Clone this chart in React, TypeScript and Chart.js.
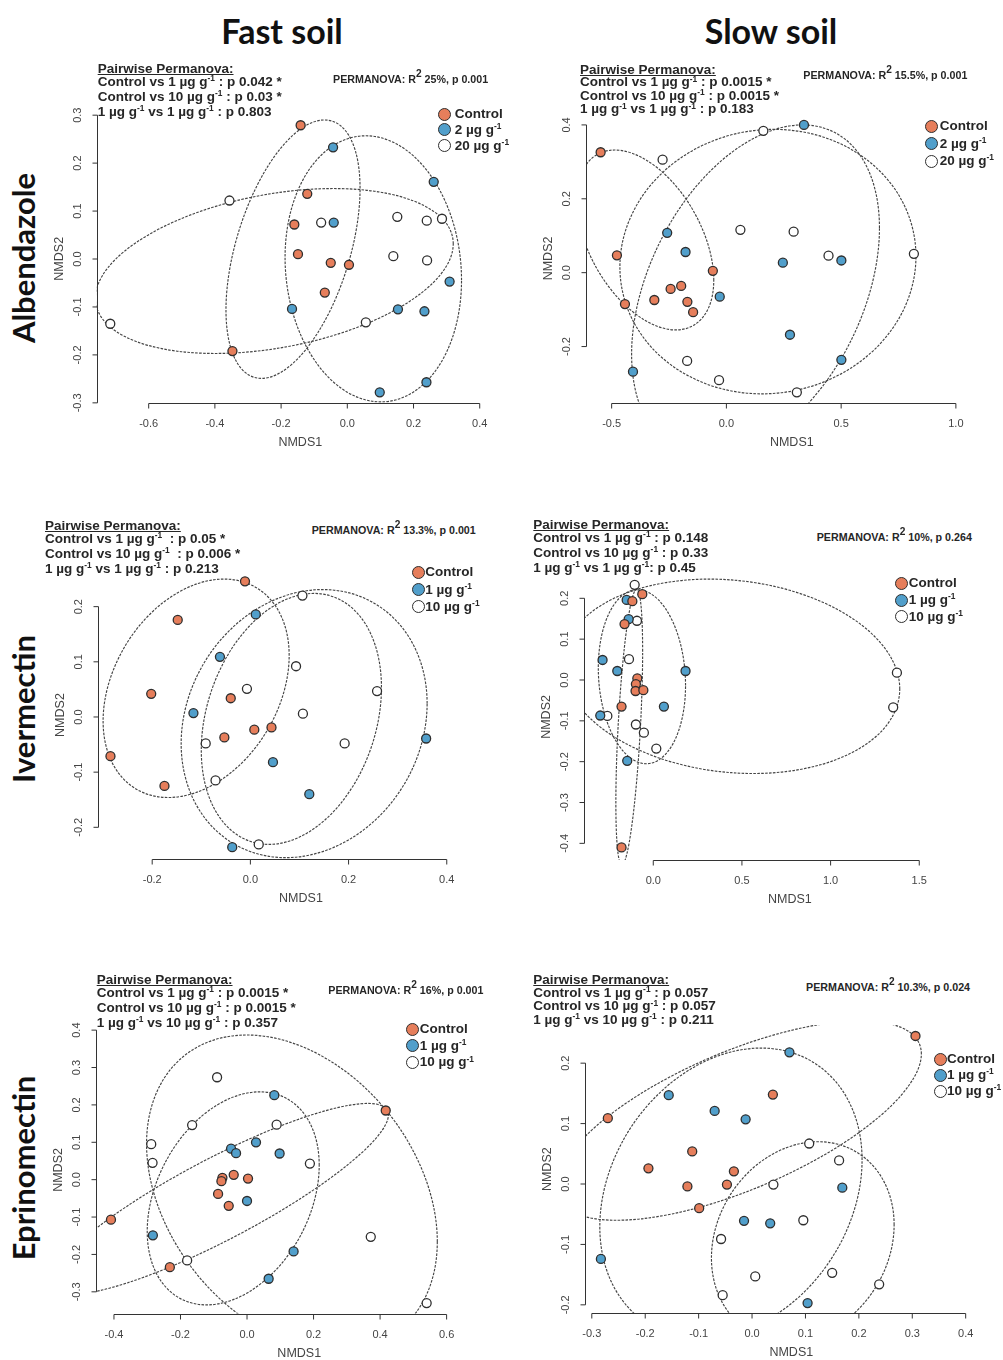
import React, { useEffect, useRef } from "react";
import { Chart, registerables } from "chart.js";
Chart.register(...registerables);

type Pt = [number, number];
// ellipse: [centerX, centerY, halfWidthX, halfHeightY, correlation]
type Ell = [number, number, number, number, number];

// ---------- Albendazole / Fast soil ----------
const albFastControl: Pt[] = [[-0.141, 0.279], [-0.121, 0.136], [-0.16, 0.072], [-0.149, 0.01], [-0.05, -0.008], [0.005, -0.012], [-0.068, -0.07], [-0.347, -0.192]];
const albFastLow: Pt[] = [[-0.043, 0.233], [0.261, 0.161], [-0.041, 0.076], [0.309, -0.047], [-0.167, -0.104], [0.153, -0.105], [0.233, -0.109], [0.239, -0.257], [0.098, -0.278]];
const albFastHigh: Pt[] = [[-0.356, 0.122], [-0.079, 0.076], [0.151, 0.088], [0.24, 0.08], [0.286, 0.084], [0.139, 0.006], [0.241, -0.003], [0.056, -0.132], [-0.716, -0.135]];
const albFastEllipses: Ell[] = [[-0.164, 0.0205, 0.2025, 0.2695, 0.47], [0.0785, -0.0205, 0.2665, 0.2775, -0.085], [-0.2205, -0.025, 0.5405, 0.172, 0.33]];
const albFastXTicks = [-0.6, -0.4, -0.2, 0, 0.2, 0.4];
const albFastYTicks = [-0.3, -0.2, -0.1, 0, 0.1, 0.2, 0.3];
const albFastPairwise = ["Control vs 1 µg g{-1} : p 0.042 *", "Control vs 10 µg g{-1} : p 0.03 *", "1 µg g{-1} vs 1 µg g{-1} : p 0.803"];
const albFastPermanova = "PERMANOVA: R{2} 25%, p 0.001";
const albFastLegend = ["Control", "2 µg g{-1}", "20 µg g{-1}"];

// ---------- Albendazole / Slow soil ----------
const albSlowControl: Pt[] = [[-0.548, 0.326], [-0.477, 0.047], [-0.442, -0.085], [-0.314, -0.074], [-0.243, -0.044], [-0.197, -0.036], [-0.17, -0.079], [-0.145, -0.107], [-0.059, 0.005]];
const albSlowLow: Pt[] = [[0.338, 0.4], [-0.258, 0.108], [-0.178, 0.056], [-0.029, -0.065], [0.246, 0.027], [0.501, 0.033], [0.277, -0.168], [0.501, -0.236], [-0.407, -0.268]];
const albSlowHigh: Pt[] = [[0.161, 0.384], [-0.278, 0.306], [0.061, 0.116], [0.293, 0.111], [0.445, 0.046], [0.817, 0.051], [-0.171, -0.239], [-0.032, -0.291], [0.307, -0.324]];
const albSlowEllipses: Ell[] = [[-0.3535, 0.0885, 0.2985, 0.2435, -0.446], [0.127, -0.05, 0.54, 0.45, 0.38], [0.181, 0.03, 0.645, 0.358, 0.04]];
const albSlowXTicks = [-0.5, 0, 0.5, 1.0];
const albSlowYTicks = [-0.2, 0, 0.2, 0.4];
const albSlowPairwise = ["Control vs 1 µg g{-1} : p 0.0015 *", "Control vs 10 µg g{-1} : p 0.0015 *", "1 µg g{-1} vs 1 µg g{-1} : p 0.183"];
const albSlowPermanova = "PERMANOVA: R{2} 15.5%, p 0.001";
const albSlowLegend = ["Control", "2 µg g{-1}", "20 µg g{-1}"];

// ---------- Ivermectin / Fast soil ----------
const ivmFastControl: Pt[] = [[-0.011, 0.246], [-0.148, 0.176], [-0.202, 0.042], [-0.04, 0.034], [0.008, -0.023], [0.043, -0.019], [-0.053, -0.037], [-0.285, -0.071], [-0.175, -0.125]];
const ivmFastLow: Pt[] = [[0.011, 0.186], [-0.062, 0.109], [-0.116, 0.007], [0.046, -0.082], [0.12, -0.14], [0.358, -0.039], [-0.037, -0.236]];
const ivmFastHigh: Pt[] = [[0.106, 0.22], [0.093, 0.092], [-0.007, 0.051], [0.107, 0.006], [0.258, 0.047], [0.192, -0.048], [-0.091, -0.048], [-0.071, -0.115], [0.017, -0.231]];
const ivmFastEllipses: Ell[] = [[-0.1105, 0.052, 0.1895, 0.198, 0.3], [0.1095, -0.012, 0.2505, 0.243, 0.15], [0.0835, -0.0035, 0.1835, 0.2275, 0.25]];
const ivmFastXTicks = [-0.2, 0, 0.2, 0.4];
const ivmFastYTicks = [-0.2, -0.1, 0, 0.1, 0.2];
const ivmFastPairwise = ["Control vs 1 µg g{-1}  : p 0.05 *", "Control vs 10 µg g{-1}  : p 0.006 *", "1 µg g{-1} vs 1 µg g{-1} : p 0.213"];
const ivmFastPermanova = "PERMANOVA: R{2} 13.3%, p 0.001";
const ivmFastLegend = ["Control", "1 µg g{-1}", "10 µg g{-1}"];

// ---------- Ivermectin / Slow soil ----------
const ivmSlowControl: Pt[] = [[-0.062, 0.21], [-0.118, 0.193], [-0.162, 0.137], [-0.09, 0.004], [-0.098, -0.01], [-0.1, -0.027], [-0.056, -0.025], [-0.179, -0.065], [-0.179, -0.41]];
const ivmSlowLow: Pt[] = [[-0.15, 0.196], [-0.139, 0.149], [-0.286, 0.049], [-0.203, 0.022], [0.182, 0.022], [0.06, -0.065], [-0.299, -0.087], [-0.147, -0.198]];
const ivmSlowHigh: Pt[] = [[-0.105, 0.233], [-0.092, 0.145], [-0.137, 0.051], [1.374, 0.018], [1.353, -0.067], [-0.259, -0.088], [-0.098, -0.109], [-0.053, -0.129], [0.017, -0.168]];
const ivmSlowEllipses: Ell[] = [[-0.1355, -0.1155, 0.0755, 0.3375, 0.55], [-0.064, 0.008, 0.246, 0.213, -0.1], [0.44, 0.009, 0.95, 0.238, -0.13]];
const ivmSlowXTicks = [0, 0.5, 1.0, 1.5];
const ivmSlowYTicks = [-0.4, -0.3, -0.2, -0.1, 0, 0.1, 0.2];
const ivmSlowPairwise = ["Control vs 1 µg g{-1} : p 0.148", "Control vs 10 µg g{-1} : p 0.33", "1 µg g{-1} vs 1 µg g{-1}: p 0.45"];
const ivmSlowPermanova = "PERMANOVA: R{2} 10%, p 0.264";
const ivmSlowLegend = ["Control", "1 µg g{-1}", "10 µg g{-1}"];

// ---------- Eprinomectin / Fast soil ----------
const eprFastControl: Pt[] = [[0.417, 0.185], [-0.074, 0.005], [-0.077, -0.004], [-0.04, 0.013], [0.003, 0.003], [-0.087, -0.038], [-0.055, -0.07], [-0.409, -0.107], [-0.232, -0.234]];
const eprFastLow: Pt[] = [[0.082, 0.226], [-0.048, 0.083], [-0.033, 0.071], [0.027, 0.1], [0.098, 0.07], [0.0, -0.057], [-0.283, -0.149], [0.14, -0.192], [0.065, -0.265]];
const eprFastHigh: Pt[] = [[-0.09, 0.274], [-0.165, 0.146], [0.089, 0.147], [-0.288, 0.095], [-0.284, 0.045], [0.189, 0.043], [0.372, -0.153], [-0.18, -0.216], [0.54, -0.33]];
const eprFastEllipses: Ell[] = [[-0.085, -0.052, 0.51, 0.256, 0.879], [-0.0415, -0.05, 0.2585, 0.285, 0.31], [0.135, -0.035, 0.437, 0.422, -0.31]];
const eprFastXTicks = [-0.4, -0.2, 0, 0.2, 0.4, 0.6];
const eprFastYTicks = [-0.3, -0.2, -0.1, 0, 0.1, 0.2, 0.3, 0.4];
const eprFastPairwise = ["Control vs 1 µg g{-1} : p 0.0015 *", "Control vs 10 µg g{-1} : p 0.0015 *", "1 µg g{-1} vs 10 µg g{-1} : p 0.357"];
const eprFastPermanova = "PERMANOVA: R{2} 16%, p 0.001";
const eprFastLegend = ["Control", "1 µg g{-1}", "10 µg g{-1}"];

// ---------- Eprinomectin / Slow soil ----------
const eprSlowControl: Pt[] = [[0.306, 0.245], [-0.27, 0.109], [0.039, 0.148], [-0.112, 0.054], [-0.194, 0.026], [-0.034, 0.021], [-0.121, -0.004], [-0.047, -0.001], [-0.099, -0.04]];
const eprSlowLow: Pt[] = [[0.07, 0.218], [-0.156, 0.147], [-0.07, 0.121], [-0.012, 0.107], [0.169, -0.006], [-0.015, -0.061], [0.034, -0.065], [-0.283, -0.124], [0.104, -0.197]];
const eprSlowHigh: Pt[] = [[0.107, 0.067], [0.163, 0.039], [0.04, -0.001], [0.096, -0.06], [-0.058, -0.091], [0.006, -0.153], [0.15, -0.147], [0.238, -0.166], [-0.055, -0.184]];
const eprSlowEllipses: Ell[] = [[-0.025, 0.105, 0.342, 0.165, 0.668], [-0.0395, -0.0155, 0.2455, 0.2405, 0.23], [0.095, -0.095, 0.171, 0.165, 0.167]];
const eprSlowXTicks = [-0.3, -0.2, -0.1, 0, 0.1, 0.2, 0.3, 0.4];
const eprSlowYTicks = [-0.2, -0.1, 0, 0.1, 0.2];
const eprSlowPairwise = ["Control vs 1 µg g{-1} : p 0.057", "Control vs 10 µg g{-1} : p 0.057", "1 µg g{-1} vs 10 µg g{-1} : p 0.211"];
const eprSlowPermanova = "PERMANOVA: R{2} 10.3%, p 0.024";
const eprSlowLegend = ["Control", "1 µg g{-1}", "10 µg g{-1}"];

const columnTitles = ["Fast soil", "Slow soil"];
const rowTitles = ["Albendazole", "Ivermectin", "Eprinomectin"];
const axisTitles = ["NMDS1", "NMDS2"];

const groupColors = ["#E67E5B", "#519FCB", "#FFFFFF"];
const pointEdge = "#2E2E2E";
const FONT = '"Liberation Sans", Arial, Helvetica, sans-serif';

interface Panel {
  key: string;
  canvas: { left: number; top: number; width: number; height: number };
  area: { left: number; right: number; top: number; bottom: number };
  xlim: [number, number];
  ylim: [number, number];
  groups: Pt[][];
  ellipses: Ell[];
  xTicks: number[];
  yTicks: number[];
  pairwise: string[];
  permanova: string;
  legend: string[];
  header: { left: number; top: number; step: number };
  perm: { left: number; top: number };
  leg: { x: number; y: number; step: number; tx: number };
}

const panels: Panel[] = [
  {
    key: "albFast",
    canvas: { left: 0, top: 100, width: 510, height: 360 },
    area: { left: 96.7, right: 503.9, top: 114.7, bottom: 402.85 },
    xlim: [-0.757, 0.473], ylim: [-0.3, 0.301],
    groups: [albFastControl, albFastLow, albFastHigh], ellipses: albFastEllipses,
    xTicks: albFastXTicks, yTicks: albFastYTicks,
    pairwise: albFastPairwise, permanova: albFastPermanova, legend: albFastLegend,
    header: { left: 97.7, top: 68, step: 13 }, perm: { left: 333, top: 79 }, leg: { x: 444.3, y: 114, step: 15.9, tx: 10.5 },
  },
  {
    key: "albSlow",
    canvas: { left: 510, top: 100, width: 493, height: 360 },
    area: { left: 586.4, right: 998.1, top: 114.2, bottom: 402.7 },
    xlim: [-0.61, 1.18], ylim: [-0.352, 0.429],
    groups: [albSlowControl, albSlowLow, albSlowHigh], ellipses: albSlowEllipses,
    xTicks: albSlowXTicks, yTicks: albSlowYTicks,
    pairwise: albSlowPairwise, permanova: albSlowPermanova, legend: albSlowLegend,
    header: { left: 580, top: 70, step: 12.5 }, perm: { left: 803.3, top: 75 }, leg: { x: 931.7, y: 126, step: 17.5, tx: 8 },
  },
  {
    key: "ivmFast",
    canvas: { left: 0, top: 555, width: 510, height: 360 },
    area: { left: 97.7, right: 505.8, top: 570.8, bottom: 859.3 },
    xlim: [-0.311, 0.517], ylim: [-0.258, 0.265],
    groups: [ivmFastControl, ivmFastLow, ivmFastHigh], ellipses: ivmFastEllipses,
    xTicks: ivmFastXTicks, yTicks: ivmFastYTicks,
    pairwise: ivmFastPairwise, permanova: ivmFastPermanova, legend: ivmFastLegend,
    header: { left: 45, top: 525, step: 13 }, perm: { left: 311.7, top: 530 }, leg: { x: 418.3, y: 572.3, step: 17.2, tx: 7 },
  },
  {
    key: "ivmSlow",
    canvas: { left: 510, top: 555, width: 493, height: 360 },
    area: { left: 584.3, right: 995.5, top: 573.8, bottom: 860.1 },
    xlim: [-0.389, 1.93], ylim: [-0.441, 0.26],
    groups: [ivmSlowControl, ivmSlowLow, ivmSlowHigh], ellipses: ivmSlowEllipses,
    xTicks: ivmSlowXTicks, yTicks: ivmSlowYTicks,
    pairwise: ivmSlowPairwise, permanova: ivmSlowPermanova, legend: ivmSlowLegend,
    header: { left: 533.3, top: 524.5, step: 13 }, perm: { left: 816.7, top: 536.7 }, leg: { x: 901.7, y: 583.3, step: 16.7, tx: 7 },
  },
  {
    key: "eprFast",
    canvas: { left: 0, top: 1005, width: 510, height: 355 },
    area: { left: 96, right: 502.5, top: 1026.4, bottom: 1313.5 },
    xlim: [-0.454, 0.768], ylim: [-0.358, 0.41],
    groups: [eprFastControl, eprFastLow, eprFastHigh], ellipses: eprFastEllipses,
    xTicks: eprFastXTicks, yTicks: eprFastYTicks,
    pairwise: eprFastPairwise, permanova: eprFastPermanova, legend: eprFastLegend,
    header: { left: 96.7, top: 979.5, step: 13 }, perm: { left: 328.3, top: 990 }, leg: { x: 412.7, y: 1029, step: 16.7, tx: 7 },
  },
  {
    key: "eprSlow",
    canvas: { left: 510, top: 1005, width: 493, height: 355 },
    area: { left: 585.4, right: 1002.8, top: 1025.1, bottom: 1313.3 },
    xlim: [-0.312, 0.459], ylim: [-0.214, 0.263],
    groups: [eprSlowControl, eprSlowLow, eprSlowHigh], ellipses: eprSlowEllipses,
    xTicks: eprSlowXTicks, yTicks: eprSlowYTicks,
    pairwise: eprSlowPairwise, permanova: eprSlowPermanova, legend: eprSlowLegend,
    header: { left: 533.3, top: 980.5, step: 12.5 }, perm: { left: 806, top: 986.7 }, leg: { x: 940, y: 1059, step: 16, tx: 7 },
  },
];

const fmt = (v: number) => (Math.abs(v) < 1e-9 ? "0.0" : v.toFixed(1));

function makeRPlugin(p: Panel) {
  return {
    id: "rstyle-" + p.key,
    beforeDatasetsDraw(chart: any) {
      const { ctx, chartArea: a } = chart;
      const xs = chart.scales.x;
      const ys = chart.scales.y;
      ctx.save();
      ctx.beginPath();
      ctx.rect(a.left, a.top, a.right - a.left, a.bottom - a.top);
      ctx.clip();
      ctx.strokeStyle = "#454545";
      ctx.lineWidth = 1.15;
      ctx.setLineDash([2.6, 1.3]);
      for (const [cx, cy, w, h, r] of p.ellipses) {
        const px = xs.getPixelForValue(cx);
        const py = ys.getPixelForValue(cy);
        const ux = xs.getPixelForValue(cx + w) - px;
        const uy = ys.getPixelForValue(cy + h * r) - py;
        const vy = ys.getPixelForValue(cy + h * Math.sqrt(1 - r * r)) - py;
        ctx.save();
        ctx.beginPath();
        ctx.transform(ux, uy, 0, vy, px, py);
        ctx.arc(0, 0, 1, 0, Math.PI * 2);
        ctx.restore();
        ctx.stroke();
      }
      ctx.restore();
    },
    afterDraw(chart: any) {
      const { ctx, chartArea: a } = chart;
      const xs = chart.scales.x;
      const ys = chart.scales.y;
      ctx.save();
      ctx.setLineDash([]);
      ctx.strokeStyle = "#333";
      ctx.lineWidth = 1;
      const xt = p.xTicks;
      const yb = Math.round(a.bottom) + 0.5;
      ctx.beginPath();
      ctx.moveTo(xs.getPixelForValue(xt[0]), yb);
      ctx.lineTo(xs.getPixelForValue(xt[xt.length - 1]), yb);
      for (const t of xt) {
        const px = xs.getPixelForValue(t);
        ctx.moveTo(px, yb);
        ctx.lineTo(px, yb + 5);
      }
      const yt = p.yTicks;
      const xl = Math.round(a.left) + 0.5;
      ctx.moveTo(xl, ys.getPixelForValue(yt[0]));
      ctx.lineTo(xl, ys.getPixelForValue(yt[yt.length - 1]));
      for (const t of yt) {
        const py = ys.getPixelForValue(t);
        ctx.moveTo(xl, py);
        ctx.lineTo(xl - 5, py);
      }
      ctx.stroke();

      ctx.fillStyle = "#444";
      ctx.font = "11px " + FONT;
      ctx.textAlign = "center";
      ctx.textBaseline = "middle";
      for (const t of xt) ctx.fillText(fmt(t), xs.getPixelForValue(t), yb + 20);
      for (const t of yt) {
        ctx.save();
        ctx.translate(xl - 20, ys.getPixelForValue(t));
        ctx.rotate(-Math.PI / 2);
        ctx.fillText(fmt(t), 0, 0);
        ctx.restore();
      }
      ctx.font = "12.5px " + FONT;
      ctx.fillText(axisTitles[0], (a.left + a.right) / 2, yb + 39);
      ctx.save();
      ctx.translate(xl - 38, (a.top + a.bottom) / 2);
      ctx.rotate(-Math.PI / 2);
      ctx.fillText(axisTitles[1], 0, 0);
      ctx.restore();
      ctx.restore();
    },
  };
}

function Rich({ text, supScale = 0.62 }: { text: string; supScale?: number }) {
  const parts = text.split(/(\{[^}]*\})/).filter((s) => s.length > 0);
  return (
    <>
      {parts.map((s, i) =>
        s.startsWith("{") ? (
          <span key={i} style={{ fontSize: supScale + "em", position: "relative", top: "-0.55em" }}>
            {s.slice(1, -1)}
          </span>
        ) : (
          <span key={i}>{s}</span>
        )
      )}
    </>
  );
}

function PanelView({ p }: { p: Panel }) {
  const ref = useRef<HTMLCanvasElement | null>(null);
  useEffect(() => {
    const cv = ref.current;
    if (!cv) return;
    const pad = {
      left: p.area.left - p.canvas.left,
      right: p.canvas.left + p.canvas.width - p.area.right,
      top: p.area.top - p.canvas.top,
      bottom: p.canvas.top + p.canvas.height - p.area.bottom,
    };
    const chart = new Chart(cv, {
      type: "scatter",
      data: {
        datasets: p.groups.map((g, i) => ({
          data: g.map(([x, y]) => ({ x, y })),
          pointBackgroundColor: groupColors[i],
          pointBorderColor: pointEdge,
          pointBorderWidth: 1.3,
          pointRadius: 4.5,
          pointHoverRadius: 4.5,
          showLine: false,
        })),
      },
      options: {
        responsive: false,
        animation: false,
        devicePixelRatio: 1,
        events: [],
        layout: { padding: pad },
        scales: {
          x: { type: "linear", display: false, min: p.xlim[0], max: p.xlim[1] },
          y: { type: "linear", display: false, min: p.ylim[0], max: p.ylim[1] },
        },
        plugins: { legend: { display: false }, tooltip: { enabled: false } },
      },
      plugins: [makeRPlugin(p)],
    } as any);
    return () => chart.destroy();
  }, [p]);

  return (
    <>
      <canvas
        ref={ref}
        width={p.canvas.width}
        height={p.canvas.height}
        style={{ position: "absolute", left: p.canvas.left, top: p.canvas.top, width: p.canvas.width, height: p.canvas.height }}
      />
      <div
        style={{
          position: "absolute", left: p.header.left, top: p.header.top - p.header.step / 2,
          fontSize: 13.5, lineHeight: p.header.step + "px", fontWeight: "bold", color: "#262626",
          whiteSpace: "pre", fontFamily: FONT,
        }}
      >
        <div style={{ textDecoration: "underline" }}>Pairwise Permanova:</div>
        {p.pairwise.map((t, i) => (
          <div key={i}><Rich text={t} /></div>
        ))}
      </div>
      <div
        style={{
          position: "absolute", left: p.perm.left, top: p.perm.top - 7, lineHeight: "14px",
          fontSize: 10.7, fontWeight: "bold", color: "#262626", whiteSpace: "pre", fontFamily: FONT,
        }}
      >
        <Rich text={p.permanova} supScale={0.95} />
      </div>
      {p.legend.map((t, i) => (
        <React.Fragment key={i}>
          <div
            style={{
              position: "absolute", left: p.leg.x - 6.5, top: p.leg.y + i * p.leg.step - 6.5,
              width: 13, height: 13, boxSizing: "border-box", borderRadius: "50%",
              border: "1.3px solid " + pointEdge, background: groupColors[i],
            }}
          />
          <div
            style={{
              position: "absolute", left: p.leg.x + p.leg.tx, top: p.leg.y + i * p.leg.step - 8,
              lineHeight: "16px", fontSize: 13.5, fontWeight: "bold", color: "#262626",
              whiteSpace: "pre", fontFamily: FONT,
            }}
          >
            <Rich text={t} />
          </div>
        </React.Fragment>
      ))}
    </>
  );
}

export default function App() {
  const titleStyle: React.CSSProperties = {
    position: "absolute", transform: "translate(-50%, -50%)", whiteSpace: "nowrap",
    fontFamily: "Lato, 'Open Sans', sans-serif", fontWeight: "bold", fontSize: 34, lineHeight: 1, color: "#111",
  };
  const rowStyle: React.CSSProperties = {
    ...titleStyle, fontSize: 31, transform: "translate(-50%, -50%) rotate(-90deg)",
  };
  return (
    <div style={{ position: "absolute", left: 0, top: 0, width: 1003, height: 1360, background: "#fff", overflow: "hidden" }}>
      <div style={{ ...titleStyle, left: 282, top: 31 }}>{columnTitles[0]}</div>
      <div style={{ ...titleStyle, left: 771, top: 31 }}>{columnTitles[1]}</div>
      <div style={{ ...rowStyle, left: 23, top: 258 }}>{rowTitles[0]}</div>
      <div style={{ ...rowStyle, left: 23, top: 709 }}>{rowTitles[1]}</div>
      <div style={{ ...rowStyle, left: 23, top: 1168 }}>{rowTitles[2]}</div>
      {panels.map((p) => (
        <PanelView key={p.key} p={p} />
      ))}
    </div>
  );
}
